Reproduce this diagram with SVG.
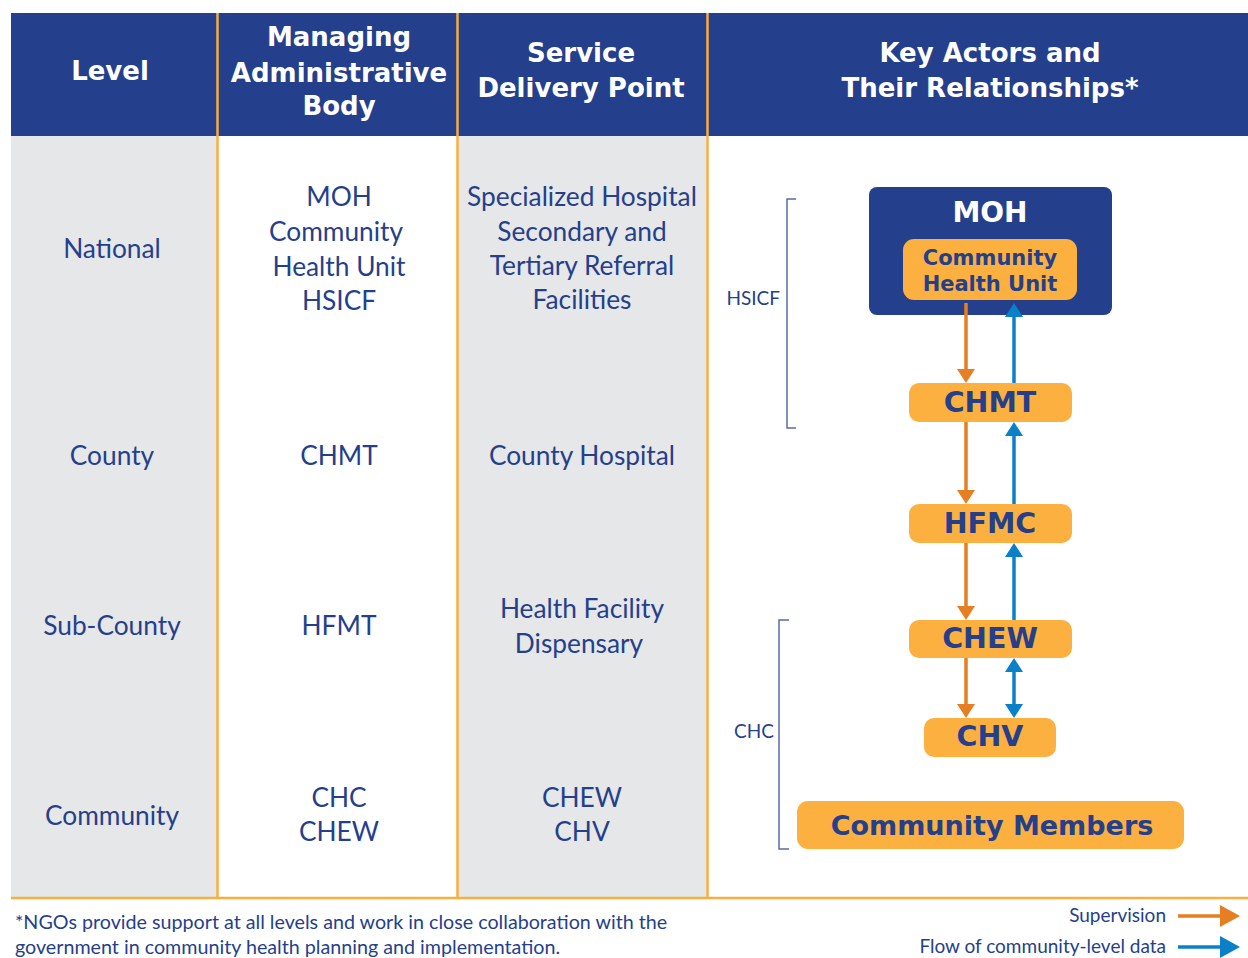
<svg xmlns="http://www.w3.org/2000/svg" width="1248" height="958" viewBox="0 0 1248 958">
  <style>
    .hdr { font-family: "DejaVu Sans", "Liberation Sans", sans-serif; font-weight: bold; font-size: 26px; fill: #ffffff; text-anchor: middle; }
    .cell { font-family: Lato, "Open Sans", "Liberation Sans", sans-serif; font-size: 26.3px; fill: #253f8b; text-anchor: middle; }
    .small { font-family: Lato, "Open Sans", "Liberation Sans", sans-serif; font-size: 19px; fill: #253f8b; }
    .note { font-family: Lato, "Open Sans", "Liberation Sans", sans-serif; font-size: 19.7px; fill: #253f8b; }
    .actor { font-family: "DejaVu Sans", "Liberation Sans", sans-serif; font-weight: bold; fill: #253f8b; text-anchor: middle; }
    .box { fill: #fbb040; }
    .divider { stroke: #f9ae42; stroke-width: 2.5; }
    .bracket { fill: none; stroke: #5a69a6; stroke-width: 1.5; }
    .sup { stroke: #e67e22; stroke-width: 3.5; fill: none; }
    .data { stroke: #0a80c8; stroke-width: 3.5; fill: none; }
  </style>
  <defs>
    <marker id="head-sup" viewBox="0 0 14 18" refX="8" refY="9" markerWidth="14" markerHeight="18" markerUnits="userSpaceOnUse" orient="auto-start-reverse">
      <path d="M0,0 L14,9 L0,18 Z" fill="#e67e22"/>
    </marker>
    <marker id="head-data" viewBox="0 0 14 18" refX="8" refY="9" markerWidth="14" markerHeight="18" markerUnits="userSpaceOnUse" orient="auto-start-reverse">
      <path d="M0,0 L14,9 L0,18 Z" fill="#0a80c8"/>
    </marker>
    <marker id="head-sup-lg" viewBox="0 0 20 22" refX="12" refY="11" markerWidth="20" markerHeight="22" markerUnits="userSpaceOnUse" orient="auto">
      <path d="M0,0 L20,11 L0,22 Z" fill="#e67e22"/>
    </marker>
    <marker id="head-data-lg" viewBox="0 0 20 22" refX="12" refY="11" markerWidth="20" markerHeight="22" markerUnits="userSpaceOnUse" orient="auto">
      <path d="M0,0 L20,11 L0,22 Z" fill="#0a80c8"/>
    </marker>
  </defs>

  <!-- table background -->
  <rect x="0" y="0" width="1248" height="958" fill="#ffffff"/>
  <g id="table">
    <rect x="11" y="136" width="206" height="762" fill="#e6e7e8"/>
    <rect x="457" y="136" width="250" height="762" fill="#e6e7e8"/>
    <rect x="11" y="13" width="1237" height="123" fill="#243f8b"/>
    <line class="divider" x1="217.5" y1="13" x2="217.5" y2="898"/>
    <line class="divider" x1="457.5" y1="13" x2="457.5" y2="898"/>
    <line class="divider" x1="707.5" y1="13" x2="707.5" y2="898"/>
    <line class="divider" x1="11" y1="898" x2="1248" y2="898"/>
  </g>

  <!-- column headers -->
  <g id="headers">
    <text class="hdr" x="110" y="80">Level</text>
    <text class="hdr" x="339" y="46">Managing</text>
    <text class="hdr" x="339" y="82">Administrative</text>
    <text class="hdr" x="339" y="115">Body</text>
    <text class="hdr" x="581" y="62">Service</text>
    <text class="hdr" x="581" y="97">Delivery Point</text>
    <text class="hdr" x="990" y="62">Key Actors and</text>
    <text class="hdr" x="990" y="97">Their Relationships*</text>
  </g>

  <!-- level column -->
  <g id="levels">
    <text class="cell" x="112" y="258">National</text>
    <text class="cell" x="112" y="465">County</text>
    <text class="cell" x="112" y="635">Sub-County</text>
    <text class="cell" x="112" y="825">Community</text>
  </g>

  <!-- managing administrative body column -->
  <g id="bodies">
    <text class="cell" x="339" y="206">MOH</text>
    <text class="cell" x="336" y="241">Community</text>
    <text class="cell" x="339" y="276">Health Unit</text>
    <text class="cell" x="339" y="310">HSICF</text>
    <text class="cell" x="339" y="465">CHMT</text>
    <text class="cell" x="339" y="635">HFMT</text>
    <text class="cell" x="339" y="807">CHC</text>
    <text class="cell" x="339" y="841">CHEW</text>
  </g>

  <!-- service delivery point column -->
  <g id="delivery-points">
    <text class="cell" x="582" y="206">Specialized Hospital</text>
    <text class="cell" x="582" y="241">Secondary and</text>
    <text class="cell" x="582" y="275">Tertiary Referral</text>
    <text class="cell" x="582" y="309">Facilities</text>
    <text class="cell" x="582" y="465">County Hospital</text>
    <text class="cell" x="582" y="618">Health Facility</text>
    <text class="cell" x="579" y="653">Dispensary</text>
    <text class="cell" x="582" y="807">CHEW</text>
    <text class="cell" x="582" y="841">CHV</text>
  </g>

  <!-- scope brackets -->
  <g id="bracket-hsicf">
    <path class="bracket" d="M796,199 H787 V428 H796"/>
    <text class="small" x="780" y="305" text-anchor="end">HSICF</text>
  </g>
  <g id="bracket-chc">
    <path class="bracket" d="M789,620 H779 V849 H789"/>
    <text class="small" x="774" y="738" text-anchor="end">CHC</text>
  </g>

  <!-- actors -->
  <g id="moh">
    <rect x="869" y="187" width="243" height="128" rx="8" fill="#243f8b"/>
    <text class="actor" x="990" y="222" font-size="28" style="fill:#ffffff">MOH</text>
  </g>
  <g id="chu">
    <rect class="box" x="903" y="239" width="174" height="61" rx="11"/>
    <text class="actor" x="990" y="265" font-size="21">Community</text>
    <text class="actor" x="990" y="291" font-size="21">Health Unit</text>
  </g>
  <g id="chmt">
    <rect class="box" x="909" y="383" width="163" height="39" rx="10"/>
    <text class="actor" x="990" y="412" font-size="28.5">CHMT</text>
  </g>
  <g id="hfmc">
    <rect class="box" x="909" y="504" width="163" height="39" rx="10"/>
    <text class="actor" x="990" y="533" font-size="28.5">HFMC</text>
  </g>
  <g id="chew">
    <rect class="box" x="909" y="620" width="163" height="38" rx="10"/>
    <text class="actor" x="990" y="648" font-size="28.5">CHEW</text>
  </g>
  <g id="chv">
    <rect class="box" x="924" y="718" width="132" height="39" rx="10"/>
    <text class="actor" x="990" y="746" font-size="28.5">CHV</text>
  </g>
  <g id="community-members">
    <rect class="box" x="797" y="801" width="387" height="48" rx="11"/>
    <text class="actor" x="992" y="835" font-size="27">Community Members</text>
  </g>

  <!-- relationships -->
  <g id="connectors">
    <line class="sup" x1="966" y1="303" x2="966" y2="377" marker-end="url(#head-sup)"/>
    <line class="sup" x1="966" y1="422" x2="966" y2="498" marker-end="url(#head-sup)"/>
    <line class="sup" x1="966" y1="543" x2="966" y2="614" marker-end="url(#head-sup)"/>
    <line class="sup" x1="966" y1="658" x2="966" y2="712" marker-end="url(#head-sup)"/>
    <line class="data" x1="1014" y1="383" x2="1014" y2="309" marker-end="url(#head-data)"/>
    <line class="data" x1="1014" y1="504" x2="1014" y2="428" marker-end="url(#head-data)"/>
    <line class="data" x1="1014" y1="620" x2="1014" y2="549" marker-end="url(#head-data)"/>
    <line class="data" x1="1014" y1="664" x2="1014" y2="712" marker-start="url(#head-data)" marker-end="url(#head-data)"/>
  </g>

  <!-- footnote -->
  <g id="footnote">
    <text class="note" x="15" y="929">*NGOs provide support at all levels and work in close collaboration with the</text>
    <text class="note" x="15" y="954">government in community health planning and implementation.</text>
  </g>

  <!-- legend -->
  <g id="legend">
    <text class="small" x="1166" y="922" text-anchor="end">Supervision</text>
    <line class="sup" x1="1178" y1="916" x2="1232" y2="916" stroke-width="4.5" marker-end="url(#head-sup-lg)"/>
    <text class="small" x="1166" y="953" text-anchor="end">Flow of community-level data</text>
    <line class="data" x1="1178" y1="947" x2="1232" y2="947" stroke-width="4.5" marker-end="url(#head-data-lg)"/>
  </g>
</svg>
